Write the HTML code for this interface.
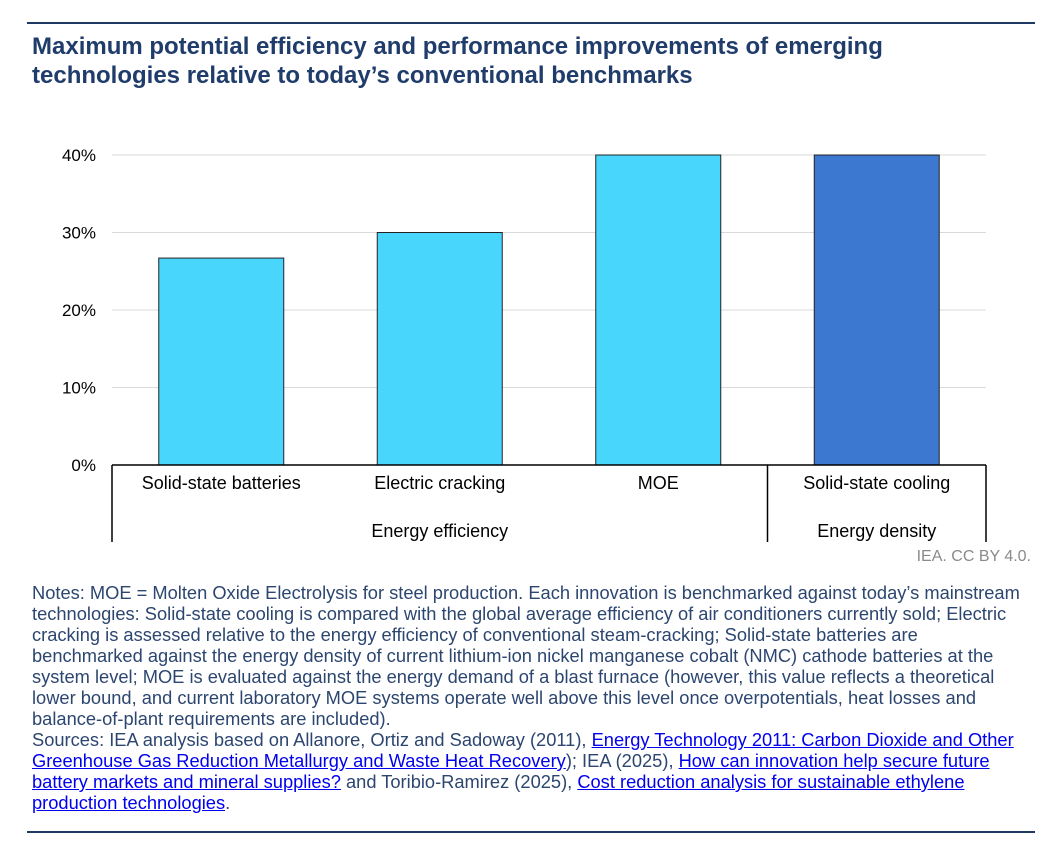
<!DOCTYPE html>
<html><head><meta charset="utf-8"><style>
body{margin:0;width:1059px;height:860px;background:#fff;font-family:"Liberation Sans",Arial,sans-serif;position:relative;overflow:hidden}
.hr{position:absolute;left:27px;width:1008px;height:2px;background:#1f3864}
#title{position:absolute;left:32px;top:32px;font-size:24px;font-weight:bold;color:#1f3c6b;line-height:29px;margin:0;white-space:nowrap}
#notes{position:absolute;left:32px;top:582px;width:1020px;font-size:18.3px;line-height:21px;color:#2c4670;white-space:nowrap}
#notes a{color:#0000ee;text-decoration:underline}
#credit{position:absolute;right:28px;top:548px;font-size:16px;color:#8a8a8a}
</style></head><body>
<div class="hr" style="top:22px"></div>
<h1 id="title">Maximum potential efficiency and performance improvements of emerging<br>technologies relative to today’s conventional benchmarks</h1>
<svg id="chart" width="1059" height="560" style="position:absolute;left:0;top:0"></svg>
<div id="credit">IEA. CC BY 4.0.</div>
<div id="notes">Notes: MOE = Molten Oxide Electrolysis for steel production. Each innovation is benchmarked against today’s mainstream<br>technologies: Solid-state cooling is compared with the global average efficiency of air conditioners currently sold; Electric<br>cracking is assessed relative to the energy efficiency of conventional steam-cracking; Solid-state batteries are<br>benchmarked against the energy density of current lithium-ion nickel manganese cobalt (NMC) cathode batteries at the<br>system level; MOE is evaluated against the energy demand of a blast furnace (however, this value reflects a theoretical<br>lower bound, and current laboratory MOE systems operate well above this level once overpotentials, heat losses and<br>balance-of-plant requirements are included).<br>Sources: IEA analysis based on Allanore, Ortiz and Sadoway (2011), <a>Energy Technology 2011: Carbon Dioxide and Other<br>Greenhouse Gas Reduction Metallurgy and Waste Heat Recovery</a>); IEA (2025), <a>How can innovation help secure future<br>battery markets and mineral supplies?</a> and Toribio-Ramirez (2025), <a>Cost reduction analysis for sustainable ethylene<br>production technologies</a>.</div>
<div class="hr" style="top:831px"></div>
<script>
const categories=["Solid-state batteries","Electric cracking","MOE","Solid-state cooling"];
const values=[26.7,30,40,40];
const groupIndex=[0,0,0,1];
const groups=["Energy efficiency","Energy density"];
const ticks=[0,10,20,30,40];
const colors=["#48d6fd","#3c78d0"];
const svg=document.getElementById('chart');const NS="http://www.w3.org/2000/svg";
const x0=112,x1=986,y0=465,yTop=155,vmax=40;
const y=v=>y0-(v/vmax)*(y0-yTop);
const band=(x1-x0)/categories.length;
function mk(t,a,txt){const e=document.createElementNS(NS,t);for(const k in a)e.setAttribute(k,a[k]);if(txt!=null)e.textContent=txt;svg.appendChild(e);return e;}
ticks.forEach(t=>{
 if(t>0){const g=mk('line',{x1:x0,x2:x1,y1:y(t),y2:y(t),stroke:'#d9d9d9','stroke-width':1});
 
 }
 const l=mk('text',{x:96,y:y(t)+6,'text-anchor':'end','font-size':17,fill:'#000'},t+'%');
 
 
});
categories.forEach((c,i)=>{
 const cx=x0+band*(i+0.5),w=125;
 const r=mk('rect',{x:cx-w/2,y:y(values[i]),width:w,height:y0-y(values[i]),fill:colors[groupIndex[i]],stroke:'#222','stroke-width':1});
 
 
 const t=mk('text',{x:cx,y:489,'text-anchor':'middle','font-size':18,fill:'#000'},c);
 
 
});
const ax=mk('line',{x1:x0,x2:x1,y1:y0,y2:y0,stroke:'#000','stroke-width':1.5});


let start=0;
groups.forEach((g,gi)=>{
 const n=groupIndex.filter(v=>v===gi).length;
 const gx0=x0+band*start,gx1=x0+band*(start+n);
 const t=mk('text',{x:(gx0+gx1)/2,y:537,'text-anchor':'middle','font-size':18,fill:'#000'},g);
 
 
 start+=n;
});
[0,3,4].forEach(k=>{const xx=x0+band*k;const l=mk('line',{x1:xx,x2:xx,y1:y0,y2:542,stroke:'#000','stroke-width':1.5});
 
 });
</script>
</body></html>
